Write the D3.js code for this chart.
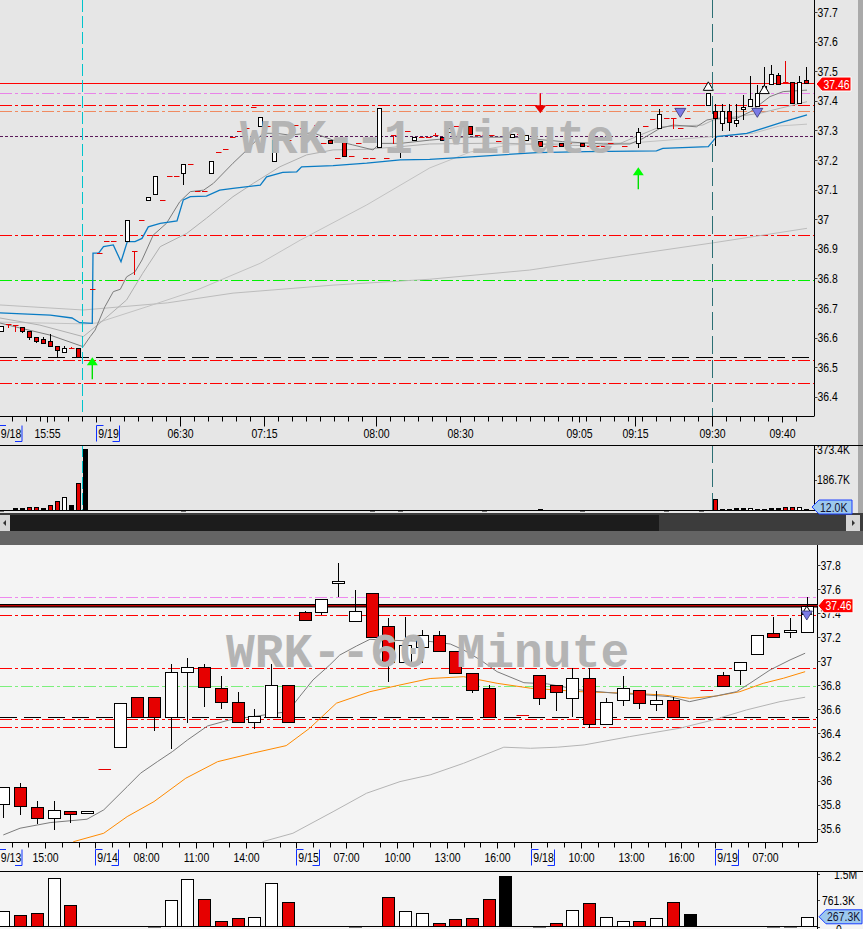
<!DOCTYPE html>
<html><head><meta charset="utf-8">
<script src="https://cdn.jsdelivr.net/npm/d3@7/dist/d3.min.js"></script>
<style>
html,body{margin:0;padding:0;background:#e6e6e6;overflow:hidden}
svg text{font-family:"Liberation Sans",Arial,sans-serif;font-size:12.5px}
</style></head><body>
<svg id="chart" width="863" height="929"></svg>
<script>
// ================= DATA =================
// 1-minute panel: [open, high, low, close]; a single number = bar with open=high=low=close; null = no bar drawn
const oneMinOHLC = [
 [36.622,36.639,36.622,36.639],[36.646,36.646,36.635,36.646],[36.642,36.642,36.623,36.642],[36.636,36.636,36.618,36.623],
 [36.623,36.623,36.596,36.603],[36.603,36.603,36.585,36.589],[36.594,36.601,36.583,36.583],[36.589,36.612,36.572,36.572],
 [36.572,36.572,36.533,36.558],[36.552,36.571,36.552,36.563],[36.563,36.569,36.563,36.563],[36.563,36.563,36.533,36.533],
 null,36.763,36.884,36.925,36.925,36.793,[36.926,36.996,36.926,36.996],[36.893,36.893,36.815,36.893],
 36.996,[37.064,37.074,37.064,37.074],[37.084,37.145,37.084,37.145],37.065,37.145,37.145,[37.155,37.185,37.118,37.185],
 37.185,37.095,37.095,[37.155,37.196,37.155,37.196],37.226,37.236,37.278,37.297,37.307,37.379,
 [37.314,37.344,37.314,37.344],37.314,[37.195,37.267,37.195,37.267],37.267,37.267,37.318,37.308,null,37.318,37.256,
 [37.267,37.267,37.256,37.256],37.206,[37.267,37.267,37.215,37.215],37.215,37.256,37.206,37.206,
 [37.245,37.375,37.245,37.375],37.206,[37.283,37.283,37.256,37.283],[37.267,37.267,37.210,37.256],37.297,
 [37.267,37.278,37.267,37.278],37.279,37.279,[37.284,37.290,37.284,37.284],[37.278,37.278,37.267,37.267],
 [37.295,37.307,37.295,37.307],37.315,37.315,[37.315,37.315,37.288,37.288],37.284,37.284,37.284,37.265,null,
 [37.277,37.288,37.277,37.288],37.288,[37.266,37.286,37.266,37.286],null,[37.265,37.265,37.247,37.247],37.247,37.247,
 [37.256,37.256,37.247,37.247],37.256,null,[37.256,37.256,37.247,37.247],37.247,37.247,37.247,37.256,null,37.247,null,
 [37.257,37.307,37.245,37.295],37.315,37.337,[37.307,37.371,37.307,37.354],37.343,[37.343,37.343,37.307,37.343],
 37.307,37.343,null,null,[37.386,37.425,37.386,37.425],[37.364,37.390,37.249,37.343],[37.324,37.390,37.300,37.365],
 [37.365,37.390,37.300,37.329],[37.324,37.390,37.314,37.335],[37.372,37.420,37.339,37.378],[37.382,37.484,37.382,37.405],
 [37.381,37.453,37.381,37.425],[37.430,37.515,37.430,37.450],[37.457,37.520,37.457,37.490],[37.487,37.495,37.457,37.457],
 [37.464,37.534,37.464,37.464],[37.464,37.464,37.393,37.393],[37.393,37.484,37.393,37.464],[37.470,37.515,37.460,37.460]
];
const oneMinVolIdx = [0,2,3,4,5,6,7,8,9,10,11,12,26,53,57,69,77,83,95,100,102,103,104,105,106,107,108,109,110,111,112,113,114,115];
const oneMinVolK   = [5,14,14,24,24,14,36,55,85,36,166,373.4,5,5,5,5,12,5,5,5,67,8,8,14,14,14,8,8,14,14,20,24,24,12];
const oneMinVolCol = "kkkrrkrrwkrkkkkkkkkkrkkkkwkkkkrrwk";
// indicator lines of the 1-minute panel: [bar index, price]
const oneMinBlue = [[-0.2,36.683],[7,36.676],[10.1,36.666],[11.2,36.650],[13,36.648],[13.1,36.885],[13.9,36.885],[14.6,36.907],[16,36.913],[17.1,36.856],[18,36.924],[19.1,36.924],[20.1,36.935],[21,36.974],[22.7,36.986],[25.1,36.994],[26,37.065],[27,37.076],[29.3,37.078],[31.2,37.098],[33.1,37.104],[37,37.115],[37.9,37.143],[40.2,37.158],[42.2,37.160],[42.9,37.177],[47.4,37.181],[52.2,37.189],[57,37.200],[61.2,37.202],[66,37.209],[76.5,37.225],[83.6,37.228],[93.6,37.231],[94.5,37.239],[101,37.245],[102.2,37.279],[106.5,37.290],[108.8,37.307],[111.7,37.329],[115.1,37.352]];
const oneMinFast = [[-0.2,36.649],[2.7,36.632],[7,36.608],[11.7,36.569],[12.7,36.603],[13.4,36.625],[14.8,36.704],[16,36.755],[17,36.763],[17.9,36.805],[19.1,36.822],[20.1,36.862],[21.7,36.946],[23.6,36.986],[25.5,37.059],[27,37.093],[28.9,37.098],[30.3,37.121],[33.1,37.189],[35.1,37.234],[37.4,37.290],[39.3,37.290],[41.2,37.284],[44.5,37.292],[47.4,37.267],[50.2,37.251],[53.1,37.234],[54.1,37.256],[57,37.256],[61.2,37.267],[66,37.277],[73.1,37.277],[80.2,37.262],[86,37.254],[89.8,37.254],[91.7,37.273],[94.1,37.307],[96,37.318],[99.3,37.312],[100.8,37.335],[102.2,37.341],[105.1,37.341],[107,37.363],[109.8,37.414],[111.7,37.431],[115.1,37.436]];
const oneMinMid = [[-0.2,36.666],[5.5,36.642],[11.7,36.603],[14.1,36.649],[17.9,36.727],[20.2,36.817],[22.7,36.907],[26.5,36.952],[29.3,37.003],[33.1,37.076],[36,37.121],[39.8,37.177],[43.6,37.217],[47.4,37.234],[52.2,37.236],[57,37.245],[61.2,37.254],[71.2,37.257],[85.1,37.247],[88.4,37.256],[94.1,37.312],[100.2,37.318],[101.7,37.335],[108.4,37.358],[115.1,37.397]];
const oneMinSlow = [[-0.2,36.652],[12,36.646],[13.6,36.649],[20.8,36.704],[27.9,36.760],[37,36.851],[42.7,36.929],[52.2,37.048],[61.2,37.173],[67,37.227],[72.7,37.251],[79.8,37.257],[89.8,37.257],[101.7,37.279],[107.4,37.290],[111.2,37.315],[115.1,37.321]];
const oneMinLong = [[-0.2,36.710],[11.7,36.693],[23.7,36.717],[33.1,36.750],[47.4,36.777],[61.2,36.797],[75.5,36.828],[89.8,36.879],[101.7,36.920],[115.1,36.969]];
const oneMinLevels = [37.425,37.385,37.364,37.281,36.945,36.795,36.533,36.523,36.445];
const oneMinLast = 37.46;
const oneMinSessionBreaks = [11.5,101.5];
const oneMinMarkIdx   = [13,91,77,97,108,101,109];
const oneMinMarkPrice = [36.533,37.175,37.358,37.344,37.344,37.464,37.453];
const oneMinMarkKind  = ["arrowUp","arrowUp","arrowDown","triDown","triDown","triUp","triUp"];
const oneMinTickPos   = [-0.5,6.5,13.5,25.5,37.5,53.5,65.5,82.5,90.5,101.5,111.5];
const oneMinTickText  = ["9/18","15:55","9/19","06:30","07:15","08:00","08:30","09:05","09:15","09:30","09:40"];
const oneMinTickIsDate= [1,0,1,0,0,0,0,0,0,0,0];
const oneMinMajorTicks= [11.5,25.5,37.5,53.5,90.5,101.5];
const oneMinPriceTicks= [36.4,36.5,36.6,36.7,36.8,36.9,37.0,37.1,37.2,37.3,37.4,37.5,37.6,37.7];
const oneMinVolTicks  = [373.4,186.7];
const oneMinVolLast   = 12.0;

// 60-minute panel
const sixtyOHLC = [
 [35.81,35.95,35.70,35.95],[35.95,35.98,35.72,35.79],[35.78,35.83,35.65,35.69],[35.69,35.83,35.60,35.76],[35.75,35.75,35.66,35.72],
 [35.735,35.745,35.735,35.745],36.10,[36.28,36.65,36.28,36.65],[36.70,36.70,36.53,36.53],[36.70,36.70,36.42,36.53],
 [36.535,36.97,36.27,36.91],[36.91,37.02,36.49,36.95],[36.95,36.97,36.62,36.78],[36.77,36.87,36.61,36.66],[36.66,36.74,36.49,36.49],
 [36.49,36.60,36.44,36.54],[36.535,36.97,36.535,36.80],[36.80,36.80,36.49,36.49],[37.41,37.42,37.34,37.34],[37.41,37.52,37.39,37.52],
 [37.65,37.82,37.54,37.67],[37.33,37.59,37.33,37.42],[37.57,37.57,37.20,37.20],[37.29,37.36,36.83,36.99],[36.99,37.37,36.99,37.13],
 [37.12,37.26,36.99,37.22],[37.22,37.25,37.08,37.08],[37.08,37.08,36.90,36.90],[36.90,36.90,36.74,36.76],[36.77,36.80,36.53,36.53],
 null,36.55,[36.88,36.88,36.64,36.69],[36.80,36.80,36.59,36.74],[36.69,36.94,36.54,36.86],[36.86,36.94,36.45,36.47],
 [36.47,36.69,36.47,36.66],[36.67,36.87,36.63,36.77],[36.76,36.76,36.61,36.65],[36.64,36.75,36.59,36.67],[36.67,36.70,36.53,36.53],
 null,36.76,[36.88,36.91,36.79,36.79],[36.92,36.92,36.81,36.99],[37.06,37.22,37.06,37.22],[37.23,37.37,37.20,37.20],
 [37.24,37.36,37.20,37.26],[37.24,37.53,37.24,37.46]
];
const sixtyVolIdx = [0,1,2,3,4,9,10,11,12,13,14,15,16,17,21,23,24,25,26,27,28,29,30,32,33,34,35,36,37,38,39,40,41,46,47,48];
const sixtyVolK   = [439,322,381,1397,635,25,782,1367,811,167,255,284,1250,723,25,870,460,381,88,205,234,811,1464,25,108,468,673,284,146,146,255,703,351,25,25,267.3];
const sixtyVolCol = "wrrwrkwwrrrwwrkrwwrrrrkkrwrwwrwrkkkw";
const sixtyFast = [[0,35.548],[1,35.604],[2.8,35.651],[5,35.679],[6,35.757],[7.4,35.951],[8.2,36.063],[9.2,36.159],[10.1,36.243],[11,36.340],[12.2,36.457],[13.5,36.507],[14.9,36.535],[16.3,36.563],[17,36.577],[17.7,36.702],[18.5,36.841],[19.5,36.966],[20.1,37.049],[21.1,37.124],[21.9,37.180],[22.7,37.174],[25.5,37.162],[26.7,37.141],[27.5,37.091],[28.5,37.008],[29.5,36.910],[31.1,36.818],[32.5,36.808],[34.5,36.757],[36.6,36.730],[38.4,36.716],[39.8,36.702],[41,36.660],[42.4,36.702],[43.8,36.743],[44.6,36.813],[45.8,36.924],[47,37.008],[47.9,37.064]];
const sixtyMid = [[3,35.35],[4.2,35.492],[6,35.562],[7.4,35.701],[9,35.826],[10.9,36.021],[12.8,36.159],[14.9,36.230],[16.9,36.293],[18.3,36.438],[19.9,36.647],[21.9,36.743],[23.7,36.799],[25.5,36.853],[27.5,36.868],[29.5,36.813],[31.5,36.772],[34.5,36.743],[37.4,36.730],[39.4,36.716],[41,36.688],[42.6,36.707],[44,36.743],[45.4,36.813],[46.6,36.855],[47.9,36.910]];
const sixtySlow = [[14,35.35],[15.5,35.492],[17.3,35.562],[19.7,35.742],[21.7,35.896],[23.7,35.993],[25.5,36.049],[27.5,36.146],[29.9,36.280],[31.5,36.271],[33.1,36.280],[34.7,36.299],[37.4,36.368],[40.4,36.438],[42.4,36.507],[44.4,36.591],[46.4,36.660],[47.9,36.697]];
const sixtyLevels = [37.53,37.38,36.94,36.79,36.53,36.513,36.445];
const sixtyLast = 37.46;
const sixtyMarkIdx   = [48,48];
const sixtyMarkPrice = [37.458,37.341];
const sixtyMarkKind  = ["triUp","triDown"];
const sixtyTickPos   = [-0.5,2.5,5.5,8.5,11.5,14.5,17.5,20.5,23.5,26.5,29.5,31.5,34.5,37.5,40.5,42.5,45.5];
const sixtyTickText  = ["9/13","15:00","9/14","08:00","11:00","14:00","9/15","07:00","10:00","13:00","16:00","9/18","10:00","13:00","16:00","9/19","07:00"];
const sixtyTickIsDate= [1,0,1,0,0,0,1,0,0,0,0,1,0,0,0,1,0];
const sixtyPriceTicks= [35.6,35.8,36.0,36.2,36.4,36.6,36.8,37.0,37.2,37.4,37.6,37.8];
const sixtyVolTicks  = [1522.6,761.3,0];
const sixtyVolLast   = 267.3;

// ================= DRAWING =================
const svg = d3.select('#chart');
const RED = '#e60000';
const P1 = {x0:0, x1:814, y0:0, y1:416};
const V1 = {y0:445, y1:510.5};
const P2 = {x0:0, x1:817, y0:545, y1:842};
const V2 = {y0:871.5, y1:926.5};

const x1 = d3.scaleLinear().domain([0,115]).range([1.3,806.3]);
const y1 = d3.scaleLinear().domain([36.4,37.7]).range([396.7,12]);
const v1 = d3.scaleLinear().domain([0,373.4]).range([V1.y1,449]);
const x2 = d3.scaleLinear().domain([0,48]).range([3.3,806.8]);
const y2 = d3.scaleLinear().domain([35.6,37.8]).range([828.7,565]);
const v2 = d3.scaleLinear().domain([0,1522.6]).range([V2.y1,874]);

const defs = svg.append('defs');
function clip(id,x,y,w,h){ defs.append('clipPath').attr('id',id).append('rect').attr('x',x).attr('y',y).attr('width',w).attr('height',h); return `url(#${id})`; }
function ntext(g,x,y,s,o){ o=o||{};
  return g.append('text').attr('transform',`translate(${x},${y}) scale(${o.sx||0.84},1)`)
    .attr('text-anchor',o.anchor||'start').attr('dy',o.dy||null).attr('fill',o.fill||'#000')
    .style('font-size',(o.size||12.5)+'px').text(s);
}

// backgrounds
svg.append('rect').attr('x',0).attr('y',0).attr('width',863).attr('height',513).attr('fill','#e6e6e6');
svg.append('rect').attr('x',858).attr('y',0).attr('width',5).attr('height',513).attr('fill','#a9a9a9');
svg.append('rect').attr('x',0).attr('y',545).attr('width',863).attr('height',384).attr('fill','#f4f4f4');
svg.append('rect').attr('x',0).attr('y',513).attr('width',863).attr('height',18).attr('fill','#3c3c3c');
svg.append('rect').attr('x',0).attr('y',515).attr('width',10).attr('height',16).attr('fill','#d6d6d6');
svg.append('path').attr('d','M3,523 L6,520 L6,526 Z').attr('fill','#333');
svg.append('rect').attr('x',10).attr('y',515).attr('width',649).attr('height',16).attr('fill','#1c1c1c');
svg.append('rect').attr('x',846).attr('y',515).attr('width',14).attr('height',16).attr('fill','#d6d6d6');
svg.append('path').attr('d','M855,523 L852,520 L852,526 Z').attr('fill','#333');
svg.append('rect').attr('x',0).attr('y',531).attr('width',863).attr('height',14).attr('fill','#646464');

function crisp(v){ return Math.round(v)+0.5; }
function rowOf(r){ return typeof r==='number' ? [r,r,r,r] : r; }

function watermark(txt,x,y){
  svg.append('text').attr('x',x).attr('y',y).text(txt)
    .style('font-family','"Liberation Mono","Courier New",monospace').style('font-weight','bold')
    .style('font-size','48px').attr('fill','#b4b4b4');
}
function levels(g,prices,styles,y,xa,xb){
  prices.forEach((p,k)=>{ const s=styles[k], yy=crisp(y(p));
    const ln=g.append('line').attr('x1',xa).attr('x2',xb).attr('y1',yy).attr('y2',yy)
      .attr('stroke',s.c).attr('stroke-width',s.w||1).attr('shape-rendering','crispEdges');
    if(s.d) ln.attr('stroke-dasharray',s.d);
  });
}
function series(g,pts,x,y,color,w){
  g.append('path').datum(pts).attr('fill','none').attr('stroke',color).attr('stroke-width',w||1)
    .attr('d',d3.line().x(d=>x(d[0])).y(d=>y(d[1])));
}
function candles(g,data,x,y,bw,dw){
  data.forEach((r,i)=>{
    if(r==null) return;
    const [o,h,l,c]=rowOf(r); const cx=crisp(x(i));
    if(o===c){
      if(h!==l) g.append('line').attr('x1',cx).attr('x2',cx).attr('y1',Math.round(y(h))).attr('y2',Math.round(y(l))+1).attr('stroke',RED);
      const yy=crisp(y(o));
      g.append('line').attr('x1',cx-dw/2).attr('x2',cx+dw/2+0.5).attr('y1',yy).attr('y2',yy).attr('stroke',RED);
    } else {
      g.append('line').attr('x1',cx).attr('x2',cx).attr('y1',Math.round(y(h))).attr('y2',Math.round(y(l))+1).attr('stroke','#000');
      const t=crisp(y(Math.max(o,c))), b=crisp(y(Math.min(o,c)));
      g.append('rect').attr('x',cx-bw/2).attr('y',t).attr('width',bw).attr('height',Math.max(b-t,1))
        .attr('fill',c>o?'#fff':RED).attr('stroke','#000');
    }
  });
}
function volumes(g,idx,vals,cols,x,v,bw,base){
  idx.forEach((i,k)=>{ const cx=crisp(x(i)); const t=crisp(v(vals[k]));
    g.append('rect').attr('x',cx-bw/2).attr('y',t).attr('width',bw).attr('height',Math.max(base-t,0.5))
      .attr('fill',cols[k]==='r'?RED:(cols[k]==='w'?'#fff':'#000')).attr('stroke','#000');
  });
}
function markers(g,idx,prices,kinds,x,y){
  idx.forEach((i,k)=>{ const cx=x(i), ty=y(prices[k]), kind=kinds[k];
    if(kind==='arrowUp'){
      g.append('line').attr('x1',cx).attr('x2',cx).attr('y1',ty+7).attr('y2',ty+22).attr('stroke','#00e000').attr('stroke-width',1.4);
      g.append('path').attr('d',`M${cx},${ty} L${cx+5.5},${ty+8} L${cx-5.5},${ty+8} Z`).attr('fill','#00ff00');
    } else if(kind==='arrowDown'){
      g.append('line').attr('x1',cx).attr('x2',cx).attr('y1',ty-7).attr('y2',ty-20).attr('stroke',RED).attr('stroke-width',1.4);
      g.append('path').attr('d',`M${cx},${ty} L${cx+6},${ty-8} L${cx-6},${ty-8} Z`).attr('fill',RED);
    } else if(kind==='triDown'){
      g.append('path').attr('d',`M${cx},${ty} L${cx+5.5},${ty-9} L${cx-5.5},${ty-9} Z`).attr('fill','#7b7be6').attr('stroke','#303070').attr('stroke-width',0.8);
    } else {
      g.append('path').attr('d',`M${cx},${ty} L${cx+5},${ty+8.5} L${cx-5},${ty+8.5} Z`).attr('fill','#fff').attr('stroke','#000').attr('stroke-width',1);
    }
  });
}
function priceAxis(g,ticks,y,xAxis){
  ticks.forEach(p=>{ const yy=y(p);
    g.append('line').attr('x1',xAxis).attr('x2',xAxis+3).attr('y1',crisp(yy)).attr('y2',crisp(yy)).attr('stroke','#444');
    ntext(g,xAxis+3,yy,String(+p.toFixed(1)),{dy:'0.36em',size:13,sx:0.8});
  });
}
function priceTag(yy,xTip,txt){
  const h=7, xb=xTip+6, xe=xTip+35;
  svg.append('path').attr('d',`M${xTip},${yy} L${xb},${yy-h} L${xe},${yy-h} L${xe},${yy+h} L${xb},${yy+h} Z`).attr('fill','#ff0000').attr('stroke','#fff').attr('stroke-width',1);
  ntext(svg,xb+1.5,yy,txt,{dy:'0.36em',size:13,sx:0.8,fill:'#fff'});
}
function volTag(yy,xTip,txt,w){
  const h=7, xb=xTip+7, xe=xTip+w;
  svg.append('path').attr('d',`M${xTip},${yy} L${xb},${yy-h} L${xe},${yy-h} L${xe},${yy+h} L${xb},${yy+h} Z`).attr('fill','#9cc8ee').attr('stroke','#1a3cff').attr('stroke-width',1);
  ntext(svg,xb+1,yy,txt,{dy:'0.36em',size:12.5,sx:0.84,fill:'#101030'});
}
function timeAxis(yTop,ticksAll,tickPos,tickText,isDate,major,x,baseline){
  const g=svg.append('g');
  ticksAll.forEach(t=>{ const xx=crisp(x(t)); g.append('line').attr('x1',xx).attr('x2',xx).attr('y1',yTop).attr('y2',yTop+5).attr('stroke','#000'); });
  tickPos.forEach((t,k)=>{ const xx=crisp(x(t)); const len=major.includes(t)?10:6;
    g.append('line').attr('x1',xx).attr('x2',xx).attr('y1',yTop).attr('y2',yTop+len).attr('stroke','#000');
    if(isDate[k]){
      const bx=Math.max(xx,-1), bw=23, t0=baseline-12.5, t1=baseline+3.5;
      g.append('path').attr('d',`M${bx+7},${t0} H${bx} V${t1}`).attr('fill','none').attr('stroke','#1030ff');
      g.append('path').attr('d',`M${bx+bw-7},${t1} H${bx+bw} V${t0}`).attr('fill','none').attr('stroke','#1030ff');
      ntext(g,bx+bw/2+0.5,baseline,tickText[k],{anchor:'middle'});
    } else {
      ntext(g,xx,baseline,tickText[k],{anchor:'middle'});
    }
  });
}

// ---------- 1 minute panel ----------
const g1 = svg.append('g').attr('clip-path',clip('c1',P1.x0,P1.y0,P1.x1-P1.x0,P1.y1-P1.y0));
watermark('WRK--1 Minute',240,153);
const dd='12,3,3,3';
levels(g1,oneMinLevels,[
  {c:'#e883e8',d:dd},{c:'#ff0000',d:dd},{c:'#f08a60',d:dd},{c:'#5a1a5a',d:'3,2'},
  {c:'#ff0000',d:dd},{c:'#00f000',d:dd},{c:'#000',d:'17,7',w:1.5},{c:'#ff0000',d:dd},{c:'#ff0000',d:dd}],y1,0,P1.x1);
oneMinSessionBreaks.forEach((b,k)=>{ const xx=crisp(x1(b));
  [[P1.y0,P1.y1],[V1.y0,V1.y1]].forEach(r=>svg.append('line').attr('x1',xx).attr('x2',xx).attr('y1',r[0]).attr('y2',r[1])
    .attr('stroke',k===0?'#00c4cc':'#2c6f74').attr('stroke-dasharray',k===0?'12,4':'18,6'));
});
series(g1,oneMinLong,x1,y1,'#bcbcbc');
series(g1,oneMinSlow,x1,y1,'#c2c2c2');
series(g1,oneMinMid,x1,y1,'#b0b0b0');
series(g1,oneMinFast,x1,y1,'#7c7c7c');
series(g1,oneMinBlue,x1,y1,'#0a7cc4',1.3);
levels(g1,[oneMinLast],[{c:'#ff0000',w:1}],y1,0,P1.x1);
candles(g1,oneMinOHLC,x1,y1,4,5);
markers(g1,oneMinMarkIdx,oneMinMarkPrice,oneMinMarkKind,x1,y1);
svg.append('line').attr('x1',814.5).attr('x2',814.5).attr('y1',0).attr('y2',416).attr('stroke','#000');
svg.append('line').attr('x1',0).attr('x2',814.5).attr('y1',416.5).attr('y2',416.5).attr('stroke','#000');
priceAxis(svg,oneMinPriceTicks,y1,814.5);
priceTag(y1(oneMinLast)+1,816,oneMinLast.toFixed(2));
timeAxis(416.5,d3.range(1.5,115,2),oneMinTickPos,oneMinTickText,oneMinTickIsDate,oneMinMajorTicks,x1,438);

// 1-min volume
svg.append('line').attr('x1',0).attr('x2',863).attr('y1',445.5).attr('y2',445.5).attr('stroke','#000');
const gv1=svg.append('g').attr('clip-path',clip('cv1',0,446,814,66));
volumes(gv1,oneMinVolIdx,oneMinVolK,oneMinVolCol,x1,v1,4,V1.y1);
svg.append('line').attr('x1',0).attr('x2',814.5).attr('y1',510.5).attr('y2',510.5).attr('stroke','#000');
svg.append('line').attr('x1',814.5).attr('x2',814.5).attr('y1',445).attr('y2',511).attr('stroke','#000');
const gva1=svg.append('g').attr('clip-path',clip('cva1',815,446,48,67));
oneMinVolTicks.forEach(t=>{ const yy=v1(t);
  gva1.append('line').attr('x1',814.5).attr('x2',817).attr('y1',crisp(yy)).attr('y2',crisp(yy)).attr('stroke','#444');
  ntext(gva1,817,yy,t.toFixed(1)+'K',{dy:'0.36em',size:13,sx:0.8});
});
volTag(v1(oneMinVolLast)-1.5,812,oneMinVolLast.toFixed(1)+'K',40);

// ---------- 60 minute panel ----------
const g2 = svg.append('g').attr('clip-path',clip('c2',P2.x0,P2.y0,P2.x1-P2.x0,P2.y1-P2.y0));
watermark('WRK--60 Minute',226,667);
levels(g2,sixtyLevels,[
  {c:'#ee88ee',d:dd},{c:'#ff0000',d:dd},{c:'#ff0000',d:dd},{c:'#7cf07c',d:dd},{c:'#000',d:'17,7',w:1.5},{c:'#ff0000',d:dd},{c:'#ff0000',d:dd}],y2,0,P2.x1);
g2.append('line').attr('x1',0).attr('x2',P2.x1).attr('y1',y2(sixtyLast)).attr('y2',y2(sixtyLast)).attr('stroke','#000').attr('stroke-width',3.4);
g2.append('line').attr('x1',0).attr('x2',P2.x1).attr('y1',y2(sixtyLast)).attr('y2',y2(sixtyLast)).attr('stroke','#ff0000').attr('stroke-width',1);
series(g2,sixtySlow,x2,y2,'#b4b4b4');
series(g2,sixtyMid,x2,y2,'#ff8a00');
series(g2,sixtyFast,x2,y2,'#7c7c7c');
candles(g2,sixtyOHLC,x2,y2,12,12);
markers(g2,sixtyMarkIdx,sixtyMarkPrice,sixtyMarkKind,x2,y2);
svg.append('line').attr('x1',817.5).attr('x2',817.5).attr('y1',545).attr('y2',842).attr('stroke','#000');
svg.append('line').attr('x1',0).attr('x2',817.5).attr('y1',842.5).attr('y2',842.5).attr('stroke','#000');
priceAxis(svg,sixtyPriceTicks,y2,817.5);
priceTag(y2(sixtyLast),818,sixtyLast.toFixed(2));
timeAxis(842.5,d3.range(0.5,48,1),sixtyTickPos,sixtyTickText,sixtyTickIsDate,[],x2,862);

// 60-min volume
svg.append('line').attr('x1',0).attr('x2',863).attr('y1',871.5).attr('y2',871.5).attr('stroke','#000');
const gv2=svg.append('g').attr('clip-path',clip('cv2',0,872,817,57));
volumes(gv2,sixtyVolIdx,sixtyVolK,sixtyVolCol,x2,v2,12,V2.y1);
svg.append('line').attr('x1',0).attr('x2',817.5).attr('y1',926.5).attr('y2',926.5).attr('stroke','#000');
svg.append('line').attr('x1',817.5).attr('x2',817.5).attr('y1',871).attr('y2',929).attr('stroke','#000');
const gva2=svg.append('g').attr('clip-path',clip('cva2',818,872,45,57));
sixtyVolTicks.forEach(t=>{ const yy=v2(t);
  gva2.append('line').attr('x1',817.5).attr('x2',820).attr('y1',crisp(yy)).attr('y2',crisp(yy)).attr('stroke','#444');
  const lab = t>=1000 ? (t/1000).toFixed(1)+'M' : (t===0?'0':t.toFixed(1)+'K');
  ntext(gva2,t===0?836:(t>=1000?834:822),yy+(t===0?3:0),lab,{dy:'0.36em',size:13,sx:0.8});
});
volTag(v2(sixtyVolLast)-0.5,819,sixtyVolLast.toFixed(1)+'K',43);
</script></body></html>
